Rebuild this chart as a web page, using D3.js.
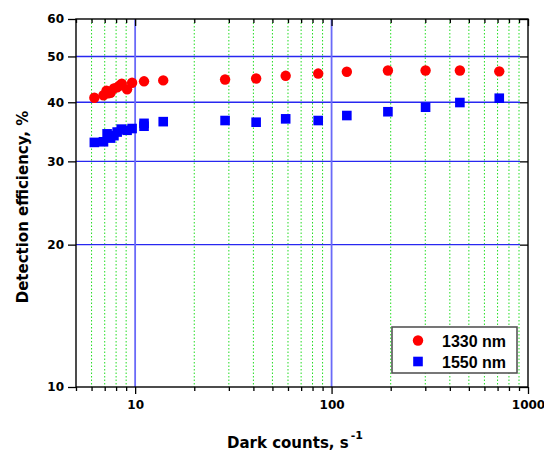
<!DOCTYPE html>
<html>
<head>
<meta charset="utf-8">
<script src="https://cdn.jsdelivr.net/npm/d3@7"></script>
<style>
  body { margin: 0; background: #fff; }
  svg text { font-family: "DejaVu Sans", sans-serif; }
</style>
</head>
<body>
<div id="chart"></div>
<script>
// dark counts (s^-1) and detection efficiency (%)
var x1330 = [6.2, 6.9, 7.15, 7.3, 7.5, 7.8, 8.1, 8.35, 8.55, 9.1, 9.65, 11.1, 13.9, 28.7, 41.3, 58.4, 85.5, 119.6, 193.6, 301, 450, 714];
var y1330 = [40.9, 41.4, 42.3, 41.8, 41.9, 42.8, 43.0, 43.4, 43.8, 42.6, 44.0, 44.3, 44.5, 44.7, 44.9, 45.5, 46.0, 46.4, 46.7, 46.7, 46.7, 46.5];
var x1550 = [6.2, 6.9, 7.2, 7.5, 7.8, 8.1, 8.5, 9.1, 9.65, 11.1, 11.1, 13.9, 28.7, 41.3, 58.4, 85.5, 119.6, 193.6, 301, 450, 714];
var y1550 = [32.9, 33.0, 34.3, 33.6, 34.0, 34.6, 35.1, 34.9, 35.2, 35.6, 36.1, 36.4, 36.6, 36.3, 36.9, 36.6, 37.5, 38.2, 39.05, 39.95, 40.8];

var xMajor = [10, 100, 1000];
var xMinor = [5, 6, 7, 8, 9, 20, 30, 40, 50, 60, 70, 80, 90, 200, 300, 400, 500, 600, 700, 800, 900];
var yTicks = [10, 20, 30, 40, 50, 60];
var yGrid = [20, 30, 40, 50];
var seriesNames = ["1330 nm", "1550 nm"];

var W = 544, H = 454;
var pL = 76, pR = 528, pT = 19, pB = 387;

var svg = d3.select("#chart").append("svg").attr("width", W).attr("height", H);

var x = d3.scaleLog().domain([5, 1000]).range([pL, pR]);
var y = d3.scaleLog().domain([10, 60]).range([pB, pT]);

// green dotted grid on minor x values
svg.append("g").selectAll("line")
  .data(xMinor.filter(function(d){ return d > 5; }))
  .enter().append("line")
  .attr("x1", function(d){ return x(d); }).attr("x2", function(d){ return x(d); })
  .attr("y1", pT).attr("y2", pB)
  .attr("stroke", "#22dd22").attr("stroke-width", 1)
  .attr("stroke-dasharray", "1.5,2");

// blue horizontal grid
svg.append("g").selectAll("line")
  .data(yGrid)
  .enter().append("line")
  .attr("x1", pL).attr("x2", pR - 8)
  .attr("y1", function(d){ return y(d); }).attr("y2", function(d){ return y(d); })
  .attr("stroke", "#2828f0").attr("stroke-width", 1.4);

// blue vertical grid at decades
svg.append("g").selectAll("line")
  .data([10, 100])
  .enter().append("line")
  .attr("x1", function(d){ return x(d); }).attr("x2", function(d){ return x(d); })
  .attr("y1", pT).attr("y2", pB)
  .attr("stroke", "#6a6af8").attr("stroke-width", 1.8);

// axes
function styleAxis(g) {
  g.select(".domain").remove();
  g.selectAll(".tick line").attr("stroke", "#000").attr("stroke-width", 1.3);
  g.selectAll(".tick text").attr("fill", "#000")
    .style("font-family", "DejaVu Sans").style("font-size", "12px").style("font-weight", "bold");
}

svg.append("g").attr("transform", "translate(0," + pB + ")")
  .call(d3.axisBottom(x).tickValues(xMajor).tickSize(7).tickPadding(6).tickFormat(d3.format("d")))
  .call(styleAxis);
svg.append("g").attr("transform", "translate(0," + pB + ")")
  .call(d3.axisBottom(x).tickValues(xMinor).tickSize(4).tickFormat(""))
  .call(styleAxis);
svg.append("g").attr("transform", "translate(0," + pT + ")")
  .call(d3.axisTop(x).tickValues(xMajor).tickSize(-7).tickFormat(""))
  .call(styleAxis);
svg.append("g").attr("transform", "translate(0," + pT + ")")
  .call(d3.axisTop(x).tickValues(xMinor).tickSize(-4).tickFormat(""))
  .call(styleAxis);
svg.append("g").attr("transform", "translate(" + pL + ",0)")
  .call(d3.axisLeft(y).tickValues(yTicks).tickSize(8).tickPadding(4).tickFormat(d3.format("d")))
  .call(styleAxis);
svg.append("g").attr("transform", "translate(" + pR + ",0)")
  .call(d3.axisRight(y).tickValues(yTicks).tickSize(-8).tickFormat(""))
  .call(styleAxis);

// frame
svg.append("rect")
  .attr("x", pL).attr("y", pT)
  .attr("width", pR - pL).attr("height", pB - pT)
  .attr("fill", "none").attr("stroke", "#000").attr("stroke-width", 1.4);

// markers
svg.append("g").selectAll("circle")
  .data(d3.zip(x1330, y1330))
  .enter().append("circle")
  .attr("cx", function(d){ return x(d[0]); })
  .attr("cy", function(d){ return y(d[1]); })
  .attr("r", 5.2)
  .attr("fill", "#ff0000");

var sq = 9.6;
svg.append("g").selectAll("rect")
  .data(d3.zip(x1550, y1550))
  .enter().append("rect")
  .attr("x", function(d){ return x(d[0]) - sq / 2; })
  .attr("y", function(d){ return y(d[1]) - sq / 2; })
  .attr("width", sq).attr("height", sq)
  .attr("fill", "#0000ff");

// legend
var lg = svg.append("g").attr("transform", "translate(392,327)");
lg.append("rect").attr("width", 125).attr("height", 46)
  .attr("fill", "#fff").attr("stroke", "#555").attr("stroke-width", 1.6);
lg.append("circle").attr("cx", 26).attr("cy", 13.5).attr("r", 5.2).attr("fill", "#ff0000");
lg.append("rect").attr("x", 26 - 4.8).attr("y", 34.5 - 4.8).attr("width", 9.6).attr("height", 9.6).attr("fill", "#0000ff");
lg.selectAll("text.lab").data(seriesNames).enter().append("text")
  .attr("class", "lab")
  .attr("x", 50)
  .attr("y", function(d, i){ return 19.5 + i * 21; })
  .style("font-family", "'Liberation Sans', Arial, sans-serif")
  .style("font-size", "16px").style("font-weight", "bold")
  .text(function(d){ return d; });

// axis titles
var xt = svg.append("text")
  .attr("x", 227).attr("y", 448)
  .style("font-size", "15px").style("font-weight", "bold");
xt.append("tspan").text("Dark counts, s");
xt.append("tspan").attr("dy", -9).attr("dx", 2).style("font-size", "11px").text("-1");

svg.append("text")
  .attr("transform", "translate(28,207) rotate(-90)")
  .attr("text-anchor", "middle")
  .style("font-size", "15px").style("font-weight", "bold")
  .text("Detection efficiency, %");
</script>
</body>
</html>
